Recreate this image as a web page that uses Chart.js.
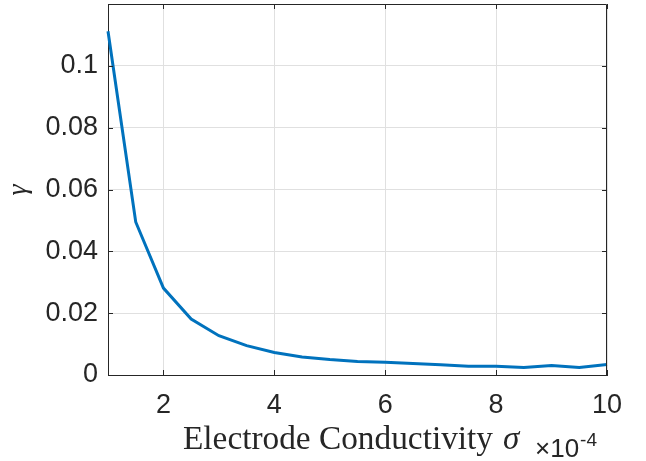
<!DOCTYPE html>
<html lang="en">
<head>
    <meta charset="UTF-8">
    <title>Electrode Conductivity vs gamma</title>
    <script src="https://cdn.jsdelivr.net/npm/chart.js"></script>
    <style>
        body {
            margin: 0;
            padding: 0;
            background: #ffffff;
        }

        .chart-container {
            width: 646px;
            height: 461px;
            position: relative;
        }
    </style>
</head>
<body>
    <div class="chart-container">
        <canvas id="gammaChart"></canvas>
    </div>

    <script>
        // data
        const conductivity = [1, 1.5, 2, 2.5, 3, 3.5, 4, 4.5, 5, 5.5, 6, 6.5, 7, 7.5, 8, 8.5, 9, 9.5, 10];
        const gamma = [0.1112, 0.0495, 0.0281, 0.0181, 0.0127, 0.0095, 0.0073, 0.0058, 0.0050, 0.0044,
                       0.0041, 0.0037, 0.0033, 0.0028, 0.0028, 0.0024, 0.0031, 0.0024, 0.0034];
        const xTicks = [2, 4, 6, 8, 10];
        const yTicks = [0, 0.02, 0.04, 0.06, 0.08, 0.1];

        const axisColor = '#262626';
        const sans = "'Liberation Sans', Arial, sans-serif";
        const serif = "'Liberation Serif', 'Times New Roman', serif";

        // box, inward ticks, and the latex-ish labels
        const matlabAxes = {
            id: 'matlabAxes',
            afterDraw(chart) {
                const ctx = chart.ctx;
                const a = chart.chartArea;
                const xs = chart.scales.x, ys = chart.scales.y;
                ctx.save();
                ctx.strokeStyle = axisColor;
                ctx.lineWidth = 1;
                ctx.beginPath();
                ctx.moveTo(a.left, a.top + 0.5);
                ctx.lineTo(a.right - 0.5, a.top + 0.5);
                ctx.lineTo(a.right - 0.5, a.bottom);
                ctx.stroke();

                const tl = 5;
                ctx.beginPath();
                xs.ticks.forEach(t => {
                    const px = Math.round(xs.getPixelForValue(t.value)) + 0.5;
                    ctx.moveTo(px, a.bottom);
                    ctx.lineTo(px, a.bottom - tl);
                    ctx.moveTo(px, a.top);
                    ctx.lineTo(px, a.top + tl);
                });
                ys.ticks.forEach(t => {
                    const py = Math.round(ys.getPixelForValue(t.value)) + 0.5;
                    ctx.moveTo(a.left, py);
                    ctx.lineTo(a.left + tl, py);
                    ctx.moveTo(a.right, py);
                    ctx.lineTo(a.right - tl, py);
                });
                ctx.stroke();

                // y label
                ctx.fillStyle = axisColor;
                ctx.save();
                ctx.translate(26, 190);
                ctx.rotate(-Math.PI / 2);
                ctx.font = 'italic 28px ' + serif;
                ctx.textAlign = 'center';
                ctx.textBaseline = 'alphabetic';
                ctx.fillText('γ', 0, 0);
                ctx.restore();

                // x label, stretched a bit since LaTeX roman is wider than Liberation Serif
                ctx.textAlign = 'left';
                ctx.textBaseline = 'alphabetic';
                ctx.font = '33px ' + serif;
                const label = 'Electrode Conductivity';
                const w = ctx.measureText(label).width;
                ctx.save();
                ctx.translate(183, 449);
                ctx.scale(310 / w, 1);
                ctx.fillText(label, 0, 0);
                ctx.restore();
                ctx.font = 'italic 33px ' + serif;
                ctx.fillText('σ', 503, 449);

                // exponent
                ctx.font = '26px ' + sans;
                ctx.fillText('×10', 535, 457);
                const wx = ctx.measureText('×10').width;
                ctx.font = '19px ' + sans;
                ctx.fillText('-4', 535 + wx + 1, 446);
                ctx.restore();
            }
        };

        const ctx = document.getElementById('gammaChart').getContext('2d');
        new Chart(ctx, {
            type: 'line',
            data: {
                datasets: [{
                    data: conductivity.map((x, i) => ({ x: x, y: gamma[i] })),
                    borderColor: '#0072BD',
                    borderWidth: 3,
                    pointRadius: 0,
                    tension: 0,
                    fill: false,
                    clip: false
                }]
            },
            options: {
                responsive: true,
                maintainAspectRatio: false,
                animation: false,
                layout: { padding: { left: 0, top: 4, right: 39, bottom: 0 } },
                plugins: {
                    legend: { display: false },
                    tooltip: { enabled: false }
                },
                scales: {
                    x: {
                        type: 'linear',
                        min: 1,
                        max: 10,
                        afterBuildTicks: s => { s.ticks = xTicks.map(v => ({ value: v })); },
                        afterFit: s => { s.height = 86; s.paddingLeft = 0; s.paddingRight = 0; },
                        grid: { color: '#e0e0e0', drawTicks: false },
                        border: { color: axisColor, width: 1 },
                        ticks: { color: axisColor, padding: 14, font: { family: sans, size: 27 } }
                    },
                    y: {
                        min: 0,
                        max: 0.12,
                        afterBuildTicks: s => { s.ticks = yTicks.map(v => ({ value: v })); },
                        afterFit: s => { s.width = 108; s.paddingTop = 0; s.paddingBottom = 0; },
                        grid: { color: '#e0e0e0', drawTicks: false },
                        border: { color: axisColor, width: 1 },
                        ticks: {
                            color: axisColor,
                            padding: 10,
                            font: { family: sans, size: 27 },
                            callback: v => String(+v.toFixed(2))
                        }
                    }
                }
            },
            plugins: [matlabAxes]
        });
    </script>
</body>
</html>
